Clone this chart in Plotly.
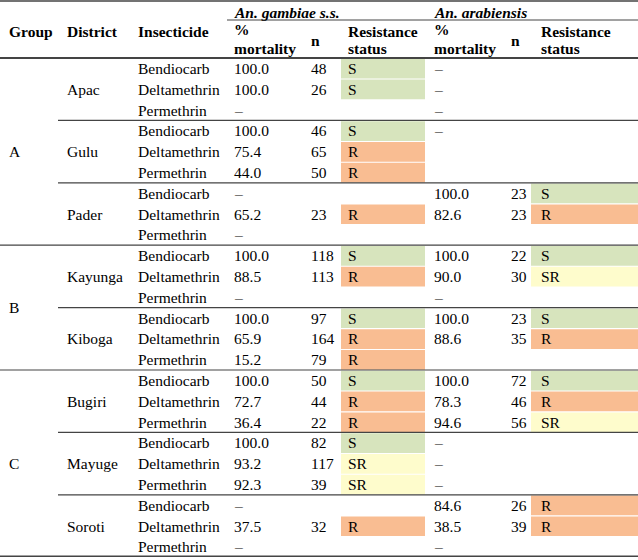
import plotly.graph_objects as go

# ---------------- data ----------------
groups = ["A", "B", "C"]
districts_per_group = [3, 2, 3]
districts = ["Apac", "Gulu", "Pader", "Kayunga", "Kiboga", "Bugiri", "Mayuge", "Soroti"]
insecticides = ["Bendiocarb", "Deltamethrin", "Permethrin"]

# None -> "–" (not tested), "" -> blank cell
gam_mortality = [100.0, 100.0, None, 100.0, 75.4, 44.0, None, 65.2, None,
                 100.0, 88.5, None, 100.0, 65.9, 15.2,
                 100.0, 72.7, 36.4, 100.0, 93.2, 92.3, None, 37.5, None]
gam_n = [48, 26, "", 46, 65, 50, "", 23, "",
         118, 113, "", 97, 164, 79,
         50, 44, 22, 82, 117, 39, "", 32, ""]
gam_status = ["S", "S", "", "S", "R", "R", "", "R", "",
              "S", "R", "", "S", "R", "R",
              "S", "R", "R", "S", "SR", "SR", "", "R", ""]
ara_mortality = [None, None, None, None, "", "", 100.0, 82.6, "",
                 100.0, 90.0, None, 100.0, 88.6, "",
                 100.0, 78.3, 94.6, None, None, None, 84.6, 38.5, None]
ara_n = ["", "", "", "", "", "", 23, 23, "",
         22, 30, "", 23, 35, "",
         72, 46, 56, "", "", "", 26, 39, ""]
ara_status = ["", "", "", "", "", "", "S", "R", "",
              "S", "SR", "", "S", "R", "",
              "S", "R", "SR", "", "", "", "R", "R", ""]

status_colors = {"S": "#d7e4bd", "R": "#f9bd92", "SR": "#fefccc"}

# ---------------- geometry ----------------
W, H = 638, 560
ROW0, ROW_H = 58.0, 20.8
n_rows = len(gam_mortality)
FONT = "Liberation Serif"
FS = 15.5
LINE = "#444444"
DX = 1  # annotation border padding

col_x = dict(group=8, district=66, insect=137, gmort=233, gn=310, gstat=347,
             amort=433, an=510, astat=540)
gstat_box = (341, 425)
astat_box = (531, 638)


def yc(i):
    return ROW0 + ROW_H * (i + 0.5)


def fmt_mort(v):
    if v is None:
        return "–"
    if v == "":
        return ""
    return f"{v:.1f}"


fig = go.Figure()
shapes = []
annotations = []

# coloured status cells
for stats, (x0, x1) in ((gam_status, gstat_box), (ara_status, astat_box)):
    for i, s in enumerate(stats):
        if s:
            shapes.append(dict(type="rect", xref="x", yref="y",
                               x0=x0, x1=x1,
                               y0=ROW0 + ROW_H * i + 0.8, y1=ROW0 + ROW_H * (i + 1) - 0.3,
                               fillcolor=status_colors[s], line=dict(width=0), layer="below"))


def add_col(x, texts, ys, bold=False):
    for t, y in zip(texts, ys):
        if t == "":
            continue
        if bold:
            t = f"<b>{t}</b>"
        annotations.append(dict(
            x=x - DX, y=y, xref="x", yref="y", text=t, showarrow=False,
            xanchor="left", yanchor="middle",
            font=dict(family=FONT, size=FS, color="black")))


rows = list(range(n_rows))
ys = [yc(i) for i in rows]
add_col(col_x["insect"], [insecticides[i % 3] for i in rows], ys)
add_col(col_x["gmort"], [fmt_mort(v) for v in gam_mortality], ys)
add_col(col_x["gn"], [str(v) for v in gam_n], ys)
add_col(col_x["gstat"], gam_status, ys)
add_col(col_x["amort"], [fmt_mort(v) for v in ara_mortality], ys)
add_col(col_x["an"], [str(v) for v in ara_n], ys)
add_col(col_x["astat"], ara_status, ys)

# districts (centred in their three rows)
add_col(col_x["district"], districts, [yc(3 * k + 1) for k in range(len(districts))])

# groups
g_y = []
start = 0
for g, nd in zip(groups, districts_per_group):
    nr = nd * 3
    g_y.append(ROW0 + ROW_H * (start + nr / 2))
    start += nr
add_col(col_x["group"], groups, g_y)

# headers
add_col(col_x["group"], ["Group"], [31], bold=True)
add_col(col_x["district"], ["District"], [31], bold=True)
add_col(col_x["insect"], ["Insecticide"], [31], bold=True)
for key in ("gmort", "amort"):
    add_col(col_x[key], ["%", "mortality"], [29, 48], bold=True)
for key in ("gn", "an"):
    add_col(col_x[key], ["n"], [40], bold=True)
for key in ("gstat", "astat"):
    add_col(col_x[key], ["Resistance", "status"], [31, 48], bold=True)

add_col(col_x["gmort"], ["<i>An. gambiae s.s.</i>"], [12], bold=True)
add_col(col_x["amort"], ["<i>An. arabiensis</i>"], [12], bold=True)

# invisible anchor trace so the axes exist
fig.add_trace(go.Scatter(x=[0, W], y=[0, H], mode="markers", marker=dict(opacity=0),
                         hoverinfo="skip", showlegend=False))

# rules
def hline(y, x0, x1, w):
    shapes.append(dict(type="line", xref="x", yref="y", x0=x0, x1=x1, y0=y, y1=y,
                       line=dict(color=LINE, width=w)))


hline(1, 0, W, 1.5)
hline(20, 227, W, 1)
hline(ROW0, 0, W, 2)
row = 0
for gi, nd in enumerate(districts_per_group):
    for d in range(nd):
        row += 3
        if row >= n_rows:
            continue
        last_in_group = d == nd - 1
        hline(ROW0 + ROW_H * row, 0 if last_in_group else 58, W, 1.2)
hline(ROW0 + ROW_H * n_rows - 1, 0, W, 1.5)

fig.update_layout(
    width=W, height=H,
    margin=dict(l=0, r=0, t=0, b=0),
    paper_bgcolor="white", plot_bgcolor="white",
    xaxis=dict(range=[0, W], visible=False, fixedrange=True),
    yaxis=dict(range=[H, 0], visible=False, fixedrange=True),
    shapes=shapes,
    annotations=annotations,
    showlegend=False,
)

fig.write_html("out.html", config={"displayModeBar": False},
               post_script="document.body.style.margin='0px';document.body.style.overflow='hidden';")
